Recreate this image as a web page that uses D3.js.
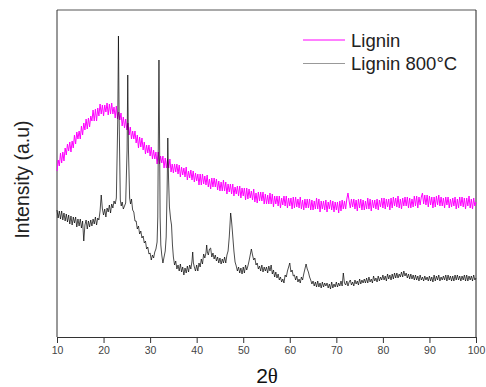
<!DOCTYPE html>
<html>
<head>
<meta charset="utf-8">
<script src="https://cdn.jsdelivr.net/npm/d3@7"></script>
<style>
  body { margin: 0; background: #fff; }
  text { font-family: "Liberation Sans", Arial, sans-serif; }
</style>
</head>
<body>
<div id="chart"></div>
<script>
// XRD patterns: [2theta, intensity (a.u.)]
const seriesNames = ["Lignin", "Lignin 800°C"];
const xTicks = [10, 20, 30, 40, 50, 60, 70, 80, 90, 100];

const ligninPoints = [
  [10,166],[10.25,177],[10.5,171],[10.75,184],
  [11,174],[11.25,185],[11.5,176],[11.75,189],
  [12,182],[12.25,193],[12.5,186],[12.75,195],
  [13,185],[13.25,196],[13.5,189],[13.75,202],
  [14,193],[14.25,205],[14.5,198],[14.75,206],
  [15,198],[15.25,211],[15.5,202],[15.75,214],
  [16,207],[16.25,218],[16.5,208],[16.75,219],
  [17,210],[17.25,221],[17.5,216],[17.75,227],
  [18,216],[18.25,228],[18.5,216],[18.75,229],
  [19,221],[19.25,233],[19.5,223],[19.75,232],
  [20,221],[20.25,232],[20.5,225],[20.75,234],
  [21,222],[21.25,233],[21.5,223],[21.75,234],
  [22,223],[22.25,230],[22.5,219],[22.75,231],
  [23,218],[23.25,225],[23.5,217],[23.75,224],
  [24,211],[24.25,220],[24.5,209],[24.75,218],
  [25,207],[25.25,214],[25.5,202],[25.75,210],
  [26,198],[26.25,206],[26.5,198],[26.75,206],
  [27,194],[27.25,202],[27.5,189],[27.75,200],
  [28,190],[28.25,199],[28.5,187],[28.75,195],
  [29,183],[29.25,192],[29.5,184],[29.75,192],
  [30,181],[30.25,190],[30.5,178],[30.75,187],
  [31,178],[31.25,185],[31.5,173],[31.75,185],
  [32,173],[32.25,181],[32.5,174],[32.75,181],
  [33,169],[33.25,179],[33.5,169],[33.75,178],
  [34,169],[34.25,178],[34.5,165],[34.75,173],
  [35,164],[35.25,173],[35.5,165],[35.75,173],
  [36,163],[36.25,172],[36.5,160],[36.75,170],
  [37,162],[37.25,169],[37.5,160],[37.75,170],
  [38,157],[38.25,166],[38.5,159],[38.75,167],
  [39,157],[39.25,166],[39.5,155],[39.75,164],
  [40,156],[40.25,163],[40.5,152],[40.75,163],
  [41,152],[41.25,163],[41.5,153],[41.75,161],
  [42,152],[42.25,162],[42.5,150],[42.75,158],
  [43,148],[43.25,159],[43.5,150],[43.75,159],
  [44,150],[44.25,158],[44.5,147],[44.75,156],
  [45,146],[45.25,155],[45.5,146],[45.75,157],
  [46,146],[46.25,155],[46.5,143],[46.75,153],
  [47,145],[47.25,153],[47.5,143],[47.75,153],
  [48,141],[48.25,150],[48.5,143],[48.75,151],
  [49,141],[49.25,151],[49.5,139],[49.75,149],
  [50,141],[50.25,149],[50.5,137],[50.75,149],
  [51,138],[51.25,148],[51.5,139],[51.75,146],
  [52,137],[52.25,148],[52.5,135],[52.75,144],
  [53,134],[53.25,145],[53.5,136],[53.75,145],
  [54,136],[54.25,145],[54.5,133],[54.75,143],
  [55,133],[55.25,142],[55.5,133],[55.75,144],
  [56,133],[56.25,143],[56.5,130],[56.75,141],
  [57,133],[57.25,141],[57.5,131],[57.75,141],
  [58,129],[58.25,139],[58.5,132],[58.75,141],
  [59,131],[59.25,141],[59.5,129],[59.75,139],
  [60,131],[60.25,139],[60.5,128],[60.75,140],
  [61,129],[61.25,140],[61.5,130],[61.75,138],
  [62,129],[62.25,140],[62.5,128],[62.75,137],
  [63,127],[63.25,138],[63.5,129],[63.75,138],
  [64,129],[64.25,138],[64.5,127],[64.75,137],
  [65,127],[65.25,136],[65.5,128],[65.75,139],
  [66,128],[66.25,138],[66.5,125],[66.75,136],
  [67,128],[67.25,136],[67.5,127],[67.75,137],
  [68,125],[68.25,135],[68.5,128],[68.75,137],
  [69,127],[69.25,136],[69.5,125],[69.75,135],
  [70,127],[70.25,135],[70.5,124],[70.75,136],
  [71,126],[71.25,137],[71.5,128],[71.75,136],
  [72,128],[72.25,138],[72.5,144],[72.75,136],
  [73,129],[73.25,138],[73.5,130],[73.75,138],
  [74,128],[74.25,137],[74.5,126],[74.75,138],
  [75,129],[75.25,138],[75.5,127],[75.75,137],
  [76,127],[76.25,136],[76.5,128],[76.75,139],
  [77,128],[77.25,138],[77.5,126],[77.75,137],
  [78,129],[78.25,137],[78.5,128],[78.75,138],
  [79,127],[79.25,137],[79.5,130],[79.75,139],
  [80,129],[80.25,139],[80.5,128],[80.75,138],
  [81,130],[81.25,138],[81.5,127],[81.75,139],
  [82,129],[82.25,140],[82.5,131],[82.75,139],
  [83,130],[83.25,141],[83.5,129],[83.75,138],
  [84,128],[84.25,139],[84.5,131],[84.75,140],
  [85,131],[85.25,140],[85.5,129],[85.75,139],
  [86,129],[86.25,138],[86.5,130],[86.75,141],
  [87,131],[87.25,141],[87.5,129],[87.75,140],
  [88,132],[88.25,140],[88.5,144],[88.75,133],
  [89,142],[89.25,132],[89.5,142],[89.75,130],
  [90,141],[90.25,132],[90.5,140],[90.75,129],
  [91,140],[91.25,130],[91.5,141],[91.75,132],
  [92,142],[92.25,131],[92.5,140],[92.75,131],
  [93,139],[93.25,129],[93.5,140],[93.75,132],
  [94,140],[94.25,129],[94.5,138],[94.75,130],
  [95,139],[95.25,131],[95.5,140],[95.75,128],
  [96,138],[96.25,129],[96.5,140],[96.75,131],
  [97,140],[97.25,130],[97.5,139],[97.75,128],
  [98,139],[98.25,131],[98.5,141],[98.75,129],
  [99,138],[99.25,128],[99.5,139],[99.75,131],
  [100,135]
];

const charPoints = [
  [10,127],[10.25,119],[10.5,126],[10.75,118],
  [11,126],[11.25,117],[11.5,124],[11.75,116],
  [12,123],[12.25,115],[12.5,122],[12.75,113],
  [13,121],[13.25,112],[13.5,120],[13.75,114],
  [14,120],[14.25,110],[14.5,118],[14.75,111],
  [15,118],[15.25,109],[15.5,116],[15.75,96],
  [16,112],[16.25,117],[16.5,108],[16.75,116],
  [17,110],[17.25,117],[17.5,111],[17.75,118],
  [18,113],[18.25,120],[18.5,112],[18.75,119],
  [19,117],[19.25,126],[19.5,142],[19.75,128],
  [20,122],[20.25,128],[20.5,120],[20.75,129],
  [21,125],[21.25,132],[21.5,124],[21.75,133],
  [22,129],[22.25,136],[22.5,133],[22.75,139],
  [23.05,217],[23.2,301],[23.35,217],[23.6,137],[23.8,131],
  [24,135],[24.25,128],[24.5,131],[24.75,134],
  [25.05,187],[25.2,262],[25.35,187],[25.6,139],[25.8,133],
  [26,138],[26.25,127],[26.5,125],[26.75,116],
  [27,116],[27.25,108],[27.5,111],[27.75,103],
  [28,106],[28.25,99],[28.5,101],[28.75,94],
  [29,96],[29.25,88],[29.5,90],[29.75,83],
  [30,84],[30.25,77],[30.5,82],[30.75,79],
  [31,85],[31.25,88],[31.5,95],[31.65,120],[31.75,187],[31.9,277],[32.05,187],[32.15,120],[32.3,92],
  [32.5,82],[32.75,74],[33,80],[33.25,86],[33.45,100],[33.65,147],[33.8,199],[33.95,160],[34.15,130],
  [34.4,118],[34.6,112],[34.8,92],[35,80],[35.25,72],[35.5,76],[35.75,68],
  [36,72],[36.25,66],[36.5,73],[36.75,65],
  [37,70],[37.25,62],[37.5,69],[37.75,64],
  [38,71],[38.25,65],[38.5,72],[38.75,68],
  [39,76],[39.15,85],[39.3,74],[39.5,70],[39.75,66],
  [40,72],[40.25,66],[40.5,74],[40.75,70],
  [41,78],[41.25,73],[41.5,83],[41.75,79],
  [42,84],[42.15,92],[42.3,85],[42.5,82],[42.75,88],
  [43,89],[43.25,80],[43.5,84],[43.75,78],
  [44,82],[44.25,76],[44.5,80],[44.75,74],
  [45,79],[45.25,73],[45.5,78],[45.75,74],
  [46,80],[46.25,74],[46.5,82],[46.75,86],
  [47,100],[47.15,112],[47.3,124],[47.45,118],[47.6,110],[47.8,98],
  [48,86],[48.25,75],[48.5,71],[48.75,66],
  [49,70],[49.25,64],[49.5,69],[49.75,63],
  [50,70],[50.25,64],[50.5,72],[50.75,67],
  [51,71],[51.25,76],[51.5,82],[51.75,88],
  [52,82],[52.25,77],[52.5,79],[52.75,72],
  [53,74],[53.25,68],[53.5,71],[53.75,66],
  [54,72],[54.25,65],[54.5,70],[54.75,66],
  [55,70],[55.25,64],[55.5,71],[55.75,66],
  [56,72],[56.25,63],[56.5,67],[56.75,60],
  [57,65],[57.25,59],[57.5,63],[57.75,57],
  [58,60],[58.25,55],[58.5,58],[58.75,54],
  [59,62],[59.25,60],[59.5,66],[59.75,70],
  [60,74],[60.25,65],[60.5,67],[60.75,61],
  [61,62],[61.25,57],[61.5,61],[61.75,55],
  [62,58],[62.25,54],[62.5,60],[62.75,57],
  [63,63],[63.25,68],[63.5,73],[63.75,68],
  [64,65],[64.25,60],[64.5,57],[64.75,53],
  [65,56],[65.25,51],[65.5,55],[65.75,50],
  [66,56],[66.25,50],[66.5,54],[66.75,49],
  [67,55],[67.25,50],[67.5,54],[67.75,51],
  [68,54],[68.25,49],[68.5,53],[68.75,48],
  [69,55],[69.25,49],[69.5,53],[69.75,50],
  [70,55],[70.25,50],[70.5,54],[70.75,51],
  [71,56],[71.25,51],[71.5,64],[71.75,54],
  [72,52],[72.25,56],[72.5,51],[72.75,55],
  [73,57],[73.25,52],[73.5,55],[73.75,51],
  [74,57],[74.25,53],[74.5,56],[74.75,52],
  [75,58],[75.25,53],[75.5,57],[75.75,54],
  [76,58],[76.25,54],[76.5,59],[76.75,54],
  [77,60],[77.25,55],[77.5,58],[77.75,54],
  [78,61],[78.25,56],[78.5,59],[78.75,55],
  [79,61],[79.25,56],[79.5,60],[79.75,57],
  [80,62],[80.25,57],[80.5,61],[80.75,56],
  [81,63],[81.25,58],[81.5,62],[81.75,57],
  [82,63],[82.25,58],[82.5,64],[82.75,59],
  [83,64],[83.25,59],[83.5,63],[83.75,60],
  [84,65],[84.25,60],[84.5,66],[84.75,61],
  [85,64],[85.25,59],[85.5,63],[85.75,58],
  [86,63],[86.25,58],[86.5,62],[86.75,57],
  [87,62],[87.25,57],[87.5,61],[87.75,56],
  [88,62],[88.25,57],[88.5,60],[88.75,56],
  [89,61],[89.25,57],[89.5,60],[89.75,56],
  [90,61],[90.25,56],[90.5,60],[90.75,55],
  [91,62],[91.25,56],[91.5,61],[91.75,57],
  [92,62],[92.25,56],[92.5,60],[92.75,57],
  [93,61],[93.25,57],[93.5,62],[93.75,56],
  [94,62],[94.25,57],[94.5,61],[94.75,56],
  [95,61],[95.25,56],[95.5,62],[95.75,57],
  [96,62],[96.25,57],[96.5,61],[96.75,56],
  [97,61],[97.25,57],[97.5,62],[97.75,56],
  [98,62],[98.25,56],[98.5,61],[98.75,57],
  [99,61],[99.25,56],[99.5,62],[99.75,57],
  [100,59]
];

const colors = ["#ff00ff", "#000000"];

function draw_xrd_chart() {
    const width = 486, height = 387;
    const margin = {top: 10, right: 10, bottom: 50, left: 57};
    const innerW = width - margin.left - margin.right;
    const innerH = height - margin.top - margin.bottom;

    d3.select("#chart").html("");

    const svg = d3.select("#chart")
        .append("svg")
        .attr("width", width)
        .attr("height", height);

    const g = svg.append("g")
        .attr("transform", `translate(${margin.left}, ${margin.top})`);

    const x = d3.scaleLinear().domain([10, 100]).range([0, innerW]);
    const y = d3.scaleLinear().domain([0, 327]).range([innerH, 0]);

    // Frame: top and right in lighter grey
    g.append("line").attr("x1", 0).attr("x2", innerW).attr("y1", 0).attr("y2", 0)
        .attr("stroke", "#555").attr("stroke-width", 1);
    g.append("line").attr("x1", innerW).attr("x2", innerW).attr("y1", 0).attr("y2", innerH)
        .attr("stroke", "#222").attr("stroke-width", 1);
    g.append("line").attr("x1", 0).attr("x2", 0).attr("y1", 0).attr("y2", innerH)
        .attr("stroke", "#333").attr("stroke-width", 1);

    // Bottom axis
    const xAxis = g.append("g")
        .attr("transform", `translate(0, ${innerH})`)
        .call(d3.axisBottom(x).tickValues(xTicks).tickSize(6).tickSizeOuter(0).tickPadding(4));
    xAxis.select(".domain").attr("stroke", "#333");
    xAxis.selectAll(".tick line").attr("stroke", "#333");
    xAxis.selectAll("text")
        .style("font-size", "10.5px")
        .attr("fill", "#444");

    // Lines
    const line = d3.line()
        .x(d => x(d[0]))
        .y(d => y(d[1]));

    g.append("path")
        .datum(ligninPoints)
        .attr("d", line)
        .attr("fill", "none")
        .attr("stroke", colors[0])
        .attr("stroke-width", 1);

    g.append("path")
        .datum(charPoints)
        .attr("d", line)
        .attr("fill", "none")
        .attr("stroke", colors[1])
        .attr("stroke-width", 0.7);

    // Axis titles
    svg.append("text")
        .attr("transform", `translate(29, ${margin.top + innerH / 2 + 6}) rotate(-90)`)
        .attr("text-anchor", "middle")
        .style("font-size", "19.5px")
        .attr("fill", "#222")
        .text("Intensity (a.u)");

    const xt = svg.append("text")
        .attr("x", 267)
        .attr("y", 383)
        .attr("text-anchor", "middle")
        .style("font-size", "21px")
        .attr("fill", "#111");
    xt.append("tspan").text("2");
    xt.append("tspan").style("font-family", "'Liberation Serif', 'DejaVu Serif', serif").text("θ");

    // Legend
    const legend = svg.selectAll(".legend")
        .data(seriesNames)
        .enter()
        .append("g")
        .attr("class", "legend")
        .attr("transform", (d, i) => `translate(303, ${40 + i * 23.5})`);

    legend.append("line")
        .attr("x1", 0).attr("x2", 42)
        .attr("y1", 0).attr("y2", 0)
        .attr("stroke", (d, i) => i === 0 ? "#ff00ff" : "#999")
        .attr("stroke-width", 1);

    legend.append("text")
        .attr("x", 48)
        .attr("y", 6.5)
        .style("font-size", "18.5px")
        .attr("fill", "#222")
        .text(d => d);
}

draw_xrd_chart();
</script>
</body>
</html>
